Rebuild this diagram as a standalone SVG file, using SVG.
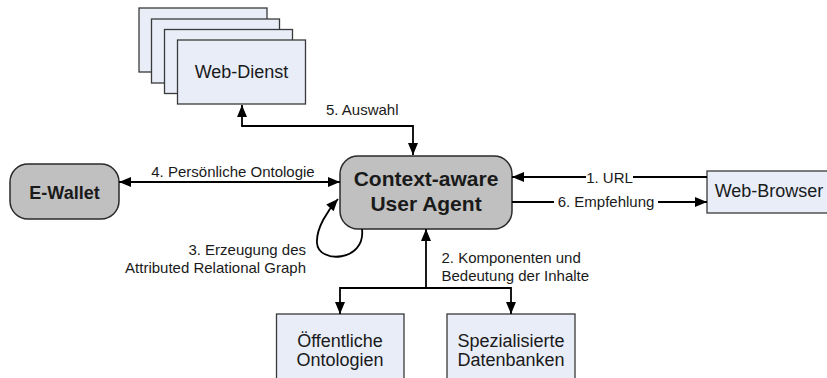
<svg xmlns="http://www.w3.org/2000/svg" width="827" height="378" viewBox="0 0 827 378">
  <style>
    .box { fill: #e8edf8; stroke: #3a3a3a; stroke-width: 1.3; }
    .agent { fill: #c0c0c0; stroke: #2a2a2a; stroke-width: 1.5; }
    .txt { font-family: "Liberation Sans", Arial, sans-serif; fill: #1a1a1a; }
    .node { font-size: 18px; text-anchor: middle; }
    .bold { font-weight: bold; text-anchor: middle; }
    .lbl { font-size: 15px; }
    .edge { fill: none; stroke: #000; stroke-width: 1.8; }
    .bg { fill: #fff; }
  </style>
  <defs>
    <marker id="arrow" viewBox="0 0 12 10" refX="12" refY="5" markerWidth="13" markerHeight="10" markerUnits="userSpaceOnUse" orient="auto-start-reverse">
      <path d="M0,0 L12,5 L0,10 Z" fill="#000"/>
    </marker>
  </defs>

  <!-- stacked service boxes -->
  <g id="web-dienst">
    <rect class="box" x="139" y="8" width="128" height="64"/>
    <rect class="box" x="151.5" y="19" width="128" height="64"/>
    <rect class="box" x="164.5" y="29.5" width="128" height="64"/>
    <rect class="box" x="177.5" y="40" width="128" height="64"/>
    <text class="txt node" x="241.5" y="78">Web-Dienst</text>
  </g>

  <g id="context-agent">
    <rect class="agent" x="340" y="156" width="172" height="73" rx="18"/>
    <text class="txt bold" x="426" y="186" font-size="21">Context-aware</text>
    <text class="txt bold" x="426" y="211" font-size="21">User Agent</text>
  </g>

  <g id="e-wallet">
    <rect class="agent" x="10" y="164" width="109" height="55" rx="18"/>
    <text class="txt bold" x="64.5" y="199" font-size="18">E-Wallet</text>
  </g>

  <g id="web-browser">
    <rect class="box" x="707" y="171" width="125" height="42"/>
    <text class="txt node" x="769" y="197" font-size="17.5">Web-Browser</text>
  </g>

  <g id="oeffentliche-ontologien">
    <rect class="box" x="276.5" y="314" width="127.5" height="80"/>
    <text class="txt node" x="340" y="347">Öffentliche</text>
    <text class="txt node" x="340" y="366">Ontologien</text>
  </g>

  <g id="spezialisierte-datenbanken">
    <rect class="box" x="447" y="314" width="128" height="80"/>
    <text class="txt node" x="511" y="347">Spezialisierte</text>
    <text class="txt node" x="511" y="366">Datenbanken</text>
  </g>

  <g id="connectors">
    <!-- 5. selection -->
    <path class="edge" d="M413,155 V126 H242 V105" marker-start="url(#arrow)" marker-end="url(#arrow)"/>
    <text class="txt lbl" x="326" y="115">5. Auswahl</text>

    <!-- 4. personal ontology -->
    <path class="edge" d="M119,182 H340" marker-start="url(#arrow)" marker-end="url(#arrow)"/>
    <text class="txt lbl" x="233" y="177" text-anchor="middle">4. Persönliche Ontologie</text>

    <!-- 1. URL / 6. recommendation -->
    <path class="edge" d="M707,177 H512" marker-end="url(#arrow)"/>
    <rect class="bg" x="586" y="170" width="47" height="14"/>
    <text class="txt lbl" x="609.5" y="182.5" text-anchor="middle">1. URL</text>

    <path class="edge" d="M512,202 H707" marker-end="url(#arrow)"/>
    <rect class="bg" x="554" y="195" width="104" height="14"/>
    <text class="txt lbl" x="606" y="207" text-anchor="middle">6. Empfehlung</text>

    <!-- 3. self loop -->
    <path class="edge" d="M362,229 C366,262 318,264 317,243 C316,228 328,210 338,199" marker-end="url(#arrow)"/>
    <text class="txt lbl" x="306" y="255" text-anchor="end">3. Erzeugung des</text>
    <text class="txt lbl" x="306" y="273" text-anchor="end">Attributed Relational Graph</text>

    <!-- 2. components and meaning -->
    <path class="edge" d="M426,288 V229" marker-end="url(#arrow)"/>
    <path class="edge" d="M340,314 V288 H511 V314" marker-start="url(#arrow)" marker-end="url(#arrow)"/>
    <text class="txt lbl" x="441.5" y="262.5">2. Komponenten und</text>
    <text class="txt lbl" x="441.5" y="280.5">Bedeutung der Inhalte</text>
  </g>
</svg>
